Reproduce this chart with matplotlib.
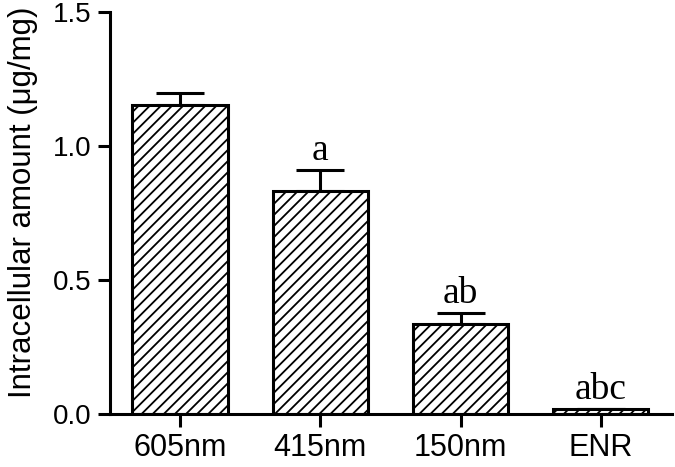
import numpy as np
import matplotlib
matplotlib.use("Agg")
import matplotlib.pyplot as plt

# values
groups = ["605nm", "415nm", "150nm", "ENR"]
amount = [1.153, 0.832, 0.336, 0.019]
sem = [0.047, 0.078, 0.041, 0.0]
letters = ["", "a", "ab", "abc"]

plt.rcParams["font.family"] = ["Liberation Sans", "DejaVu Sans"]
plt.rcParams["hatch.linewidth"] = 1.3

fig = plt.figure(figsize=(6.75, 4.67), dpi=100)
ax = fig.add_axes([0.163, 0.1135, 0.833, 0.8605])

x = np.arange(len(groups))
ax.bar(x, amount, width=0.68, color="white", edgecolor="black",
       linewidth=2.2, hatch="///", zorder=2)
ax.errorbar(x, amount, yerr=[np.zeros(len(sem)), sem], fmt="none",
            ecolor="black", elinewidth=2.2, capsize=17.5, capthick=2.2, zorder=1)

for xi, yi, ei, lab in zip(x, amount, sem, letters):
    if lab:
        ax.annotate(lab, (xi, yi + ei), xytext=(0, 7), textcoords="offset points",
                    ha="center", va="baseline", fontsize=27,
                    family=["Liberation Serif", "DejaVu Serif"])

ax.set_xlim(-0.5, 3.51)
ax.set_ylim(0, 1.5)
ax.set_yticks([0.0, 0.5, 1.0, 1.5])
ax.set_yticklabels(["0.0", "0.5", "1.0", "1.5"])
ax.set_xticks(x)
ax.set_xticklabels(groups)
ax.set_ylabel("Intracellular amount (\u03bcg/mg)", fontsize=22.5)
ax.yaxis.set_label_coords(-0.128, 0.527)

for side in ["top", "right"]:
    ax.spines[side].set_visible(False)
for side in ["left", "bottom"]:
    ax.spines[side].set_linewidth(2.2)
ax.tick_params(axis="both", width=2.2, length=9)
ax.tick_params(axis="y", labelsize=20, pad=4)
ax.tick_params(axis="x", labelsize=22, pad=5)

fig.savefig("out.png", dpi=100)
